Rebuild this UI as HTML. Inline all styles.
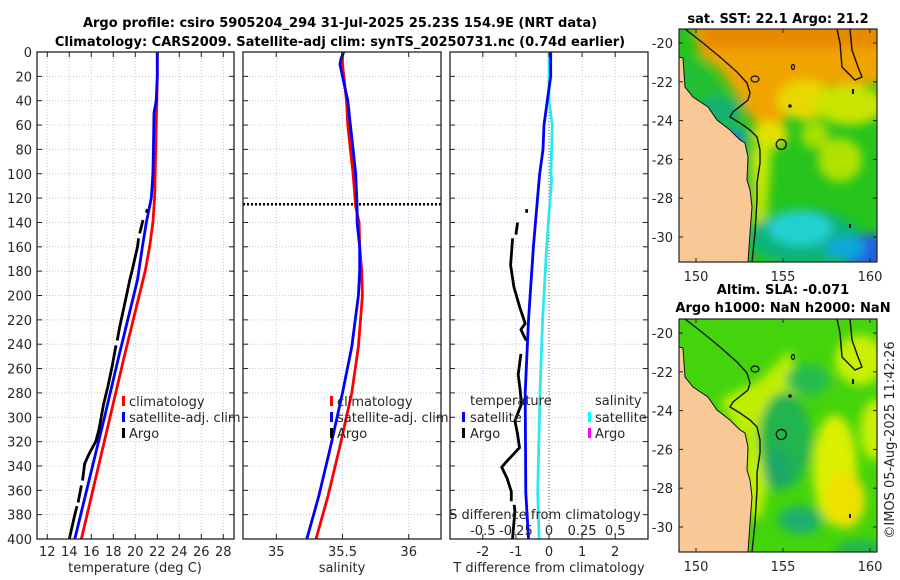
<!DOCTYPE html>
<html><head><meta charset="utf-8">
<style>
html,body{margin:0;padding:0;background:#fff;}
svg{display:block;font-family:"DejaVu Sans","Liberation Sans",sans-serif;}
.t{font-size:13px;fill:#262626;}
.b{font-size:13px;font-weight:bold;fill:#000;}
</style></head>
<body>
<svg id="fig" width="900" height="580" viewBox="0 0 900 580" xmlns="http://www.w3.org/2000/svg">
<defs>
  <clipPath id="c1"><rect x="37" y="52" width="197" height="487"/></clipPath>
  <clipPath id="c2"><rect x="243" y="52" width="198" height="487"/></clipPath>
  <clipPath id="c3"><rect x="450" y="52" width="198" height="487"/></clipPath>
  <clipPath id="cm1"><rect x="679" y="29" width="198" height="233"/></clipPath>
  <clipPath id="cm2"><rect x="679" y="319" width="198" height="233"/></clipPath>
  <filter id="bl" x="-10%" y="-10%" width="120%" height="120%"><feGaussianBlur stdDeviation="5"/></filter>
</defs>

<text class="b" x="340" y="27" text-anchor="middle">Argo profile: csiro 5905204_294 31-Jul-2025 25.23S 154.9E (NRT data)</text>
<text class="b" x="340" y="46" text-anchor="middle">Climatology: CARS2009. Satellite-adj clim: synTS_20250731.nc (0.74d earlier)</text>

<g id="grid"></g>
<g id="marks"></g>
<g id="axes"></g>

<g>
  <rect x="122" y="396" width="3" height="10" fill="#f00"/><text class="t" x="129" y="406">climatology</text>
  <rect x="122" y="412" width="3" height="10" fill="#00f"/><text class="t" x="129" y="422">satellite-adj. clim</text>
  <rect x="122" y="428" width="3" height="10" fill="#000"/><text class="t" x="129" y="438">Argo</text>
</g>
<g>
  <rect x="330" y="396" width="3" height="10" fill="#f00"/><text class="t" x="337" y="406">climatology</text>
  <rect x="330" y="412" width="3" height="10" fill="#00f"/><text class="t" x="337" y="422">satellite-adj. clim</text>
  <rect x="330" y="428" width="3" height="10" fill="#000"/><text class="t" x="337" y="438">Argo</text>
</g>
<g>
  <text class="t" x="470" y="405">temperature</text>
  <rect x="462" y="412" width="3" height="10" fill="#00f"/><text class="t" x="470" y="422">satellite</text>
  <rect x="462" y="428" width="3" height="10" fill="#000"/><text class="t" x="470" y="438">Argo</text>
  <text class="t" x="595" y="405">salinity</text>
  <rect x="588" y="412" width="3" height="10" fill="#0ff"/><text class="t" x="595" y="422">satellite</text>
  <rect x="588" y="428" width="3" height="10" fill="#f0f"/><text class="t" x="595" y="438">Argo</text>
</g>
<text class="t" x="545" y="519" text-anchor="middle">S difference from climatology</text>

<text class="t" x="135" y="572" text-anchor="middle">temperature (deg C)</text>
<text class="t" x="342" y="572" text-anchor="middle">salinity</text>
<text class="t" x="549" y="572" text-anchor="middle">T difference from climatology</text>

<!-- Upper map: SST -->
<text class="b" x="778" y="23" text-anchor="middle">sat. SST: 22.1 Argo: 21.2</text>
<g clip-path="url(#cm1)">
  <rect x="679" y="29" width="198" height="233" fill="#26c41c"/>
  <g filter="url(#bl)">
    <polygon points="690,20 890,20 890,80 850,88 815,85 795,100 782,125 765,130 752,120 740,100 720,70 700,55" fill="#f0a400"/>
    <rect x="700" y="20" width="190" height="28" fill="#e88a00"/>
    <ellipse cx="805" cy="100" rx="28" ry="20" fill="#e8d800"/>
    <ellipse cx="850" cy="105" rx="35" ry="20" fill="#c8e400"/>
    <ellipse cx="770" cy="135" rx="18" ry="14" fill="#e4e000"/>
    <polygon points="752,150 772,140 770,175 765,230 755,230" fill="#c6e800"/>
    <ellipse cx="840" cy="160" rx="22" ry="22" fill="#b0e200"/>
    <ellipse cx="815" cy="135" rx="14" ry="14" fill="#a8e000"/>
    <polygon points="679,55 700,58 725,95 742,125 752,150 752,262 700,262 679,200" fill="#22c030"/>
    <ellipse cx="720" cy="110" rx="22" ry="14" fill="#12b070"/>
    <ellipse cx="735" cy="138" rx="10" ry="8" fill="#1880d0"/>
    <ellipse cx="805" cy="238" rx="55" ry="28" fill="#10b478"/>
    <ellipse cx="800" cy="228" rx="32" ry="18" fill="#22d0d0"/>
    <ellipse cx="868" cy="252" rx="28" ry="18" fill="#2060e0"/>
    <ellipse cx="845" cy="248" rx="20" ry="12" fill="#10a8d8"/>
  </g>
</g>

<!-- Lower map: SLA -->
<text class="b" x="783" y="294" text-anchor="middle">Altim. SLA: -0.071</text>
<text class="b" x="783" y="312" text-anchor="middle">Argo h1000: NaN h2000: NaN</text>
<g clip-path="url(#cm2)">
  <rect x="679" y="319" width="198" height="233" fill="#44d40c"/>
  <g filter="url(#bl)">
    <polygon points="720,400 760,380 790,350 800,395 760,420 740,440" fill="#bfee00"/>
    <ellipse cx="755" cy="470" rx="12" ry="50" fill="#c0f000"/>
    <ellipse cx="860" cy="360" rx="25" ry="25" fill="#c8f000"/>
    <ellipse cx="835" cy="470" rx="22" ry="55" fill="#dcf000"/>
    <ellipse cx="845" cy="500" rx="20" ry="28" fill="#f0e000"/>
    <ellipse cx="875" cy="430" rx="15" ry="30" fill="#c8f000"/>
    <ellipse cx="785" cy="440" rx="26" ry="48" fill="#20b450"/>
    <ellipse cx="808" cy="380" rx="22" ry="16" fill="#28bc50"/>
    <ellipse cx="800" cy="520" rx="22" ry="14" fill="#1ab070"/>
    <ellipse cx="778" cy="470" rx="14" ry="20" fill="#1aa868"/>
    <ellipse cx="860" cy="550" rx="25" ry="10" fill="#20b450"/>
  </g>
</g>

<g id="maplayers"></g>

<text class="t" transform="translate(894,440) rotate(-90)" text-anchor="middle">©IMOS 05-Aug-2025 11:42:26</text>

<script>
// ---------- data ----------
const tempDepths = [0,20,40,60,80,100,120,140,160,180,200,250,300,350,400];
const tempClim   = [22.0,22.0,21.95,21.9,21.85,21.8,21.75,21.6,21.3,20.9,20.35,19.0,17.7,16.4,15.1];
const satDepths  = [0,20,40,50,80,100,120,140,160,187,200,250,300,350,400];
const tempSat    = [22.0,22.0,21.9,21.7,21.65,21.6,21.45,21.0,20.65,20.2,19.85,18.5,17.2,15.85,14.5];
const argoDepths = [129,132,null,138,149,null,153,160,180,187,200,225,237,null,241,260,275,290,300,310,320,330,338,345,352,null,356,370,null,373,380,400];
const tempArgo   = [21.1,21.0,null,20.7,20.4,null,20.3,20.2,19.7,19.5,19.2,18.6,18.35,null,18.25,17.85,17.5,17.1,16.9,16.7,16.4,15.8,15.4,15.3,15.2,null,15.1,14.8,null,14.7,14.5,14.0];

const salDepths = [0,5,10,20,40,60,80,100,127,140,160,180,200,242,280,324,365,400];
const salClim   = [35.50,35.50,35.50,35.51,35.53,35.54,35.56,35.58,35.60,35.625,35.63,35.645,35.65,35.62,35.57,35.48,35.39,35.30];
const salSat    = [35.51,35.49,35.48,35.50,35.54,35.56,35.58,35.60,35.61,35.61,35.63,35.63,35.62,35.57,35.50,35.41,35.32,35.23];
const mldDepth  = 125;

const diffDepths = [0,20,40,60,80,100,105,160,220,280,362,400];
const tDiffSat   = [0.05,0.05,-0.05,-0.15,-0.18,-0.28,-0.3,-0.47,-0.62,-0.72,-0.7,-0.62];
const sDiffSat   = [0,0,0,0.025,0.02,0.015,0.02,-0.018,-0.048,-0.068,-0.085,-0.075];
const argoDiffDepths = [129,132,null,140,150,null,153,175,193,210,223,228,237,null,248,265,276,289,303,314,325,336,341,350,361,369,null,372,377,406];
const tDiffArgo      = [-0.67,-0.68,null,-0.95,-1.0,null,-1.1,-1.16,-1.06,-0.88,-0.72,-0.85,-0.69,null,-0.85,-0.93,-0.88,-0.83,-1.03,-0.95,-0.89,-1.27,-1.43,-1.27,-1.14,-1.14,null,-1.05,-1.03,-1.12];

const depthTicks = [0,20,40,60,80,100,120,140,160,180,200,220,240,260,280,300,320,340,360,380,400];
const tempTicks  = [12,14,16,18,20,22,24,26,28];
const salTicks   = [35,35.5,36];
const salTickLabels = ["35","35.5","36"];
const tDiffTicks = [-2,-1,0,1,2];
const sDiffTicks = [-0.5,-0.25,0,0.25,0.5];
const sDiffTickLabels = ["-0.5","-0.25","0","0.25","0.5"];
const latTicks = [-20,-22,-24,-26,-28,-30];
const lonTicks = [150,155,160];

// ---------- axis functions ----------
const Y0 = 52, Y1 = 539;
const yD = d => 52 + d * 1.2175;
const xT = t => 47.3 + (t - 12) * 11.0;
const xS = s => 276.3 + (s - 35) * 132.4;
const xTD = t => 549 + t * 33.1;
const xSD = s => 549 + s * 132.4;
const mapX = lon => 696 + (lon - 150) * 17.4;
const mapY = (lat, off) => 43 + off + (-20 - lat) * 19.4;

const NS = "http://www.w3.org/2000/svg";
function mk(tag, attrs, parent) {
  const e = document.createElementNS(NS, tag);
  for (const k in attrs) e.setAttribute(k, attrs[k]);
  parent.appendChild(e);
  return e;
}
const grid = document.getElementById('grid');
const marks = document.getElementById('marks');
const axes = document.getElementById('axes');

function pathFrom(depths, vals, fx) {
  let d = "", pen = false;
  for (let i = 0; i < depths.length; i++) {
    if (depths[i] === null || vals[i] === null) { pen = false; continue; }
    d += (pen ? "L" : "M") + fx(vals[i]).toFixed(1) + "," + yD(depths[i]).toFixed(1);
    pen = true;
  }
  return d;
}

const panels = [
  {x0:37, x1:234, clip:'c1', vticks:tempTicks.map(xT)},
  {x0:243, x1:441, clip:'c2', vticks:salTicks.map(xS)},
  {x0:450, x1:648, clip:'c3', vticks:tDiffTicks.map(xTD)}
];
panels.forEach((p, pi) => {
  depthTicks.forEach(d => {
    const g = mk('line', {x1:p.x0, x2:p.x1, y1:yD(d), y2:yD(d), stroke:'#c4c4e4', 'stroke-width':1, 'stroke-dasharray':'1,2'}, grid);
    
    
    mk('line', {x1:p.x0, x2:p.x0+5, y1:yD(d), y2:yD(d), stroke:'#222', 'stroke-width':1}, axes);
    mk('line', {x1:p.x1-5, x2:p.x1, y1:yD(d), y2:yD(d), stroke:'#222', 'stroke-width':1}, axes);
  });
  p.vticks.forEach(x => {
    const g = mk('line', {x1:x, x2:x, y1:Y0, y2:Y1, stroke:'#c4c4e4', 'stroke-width':1, 'stroke-dasharray':'1,2'}, grid);
    
    
    mk('line', {x1:x, x2:x, y1:Y1-5, y2:Y1, stroke:'#222', 'stroke-width':1}, axes);
    mk('line', {x1:x, x2:x, y1:Y0, y2:Y0+5, stroke:'#222', 'stroke-width':1}, axes);
  });
  const fr = mk('rect', {x:p.x0, y:Y0, width:p.x1-p.x0, height:Y1-Y0, fill:'none', stroke:'#222', 'stroke-width':1.3}, axes);
  
  
});

const zl = mk('line', {x1:xTD(0), x2:xTD(0), y1:Y0, y2:Y1, stroke:'#555', 'stroke-width':1, 'stroke-dasharray':'1,2'}, grid);



depthTicks.forEach(d => {
  const t = mk('text', {x:32, y:yD(d)+5, 'text-anchor':'end', class:'t'}, axes);
  t.textContent = d;
  
  
});
tempTicks.forEach(v => {
  const t = mk('text', {x:xT(v), y:556, 'text-anchor':'middle', class:'t'}, axes);
  t.textContent = v;
  
  
});
salTicks.forEach((v, i) => {
  const t = mk('text', {x:xS(v), y:556, 'text-anchor':'middle', class:'t'}, axes);
  t.textContent = salTickLabels[i];
  
  
});
tDiffTicks.forEach(v => {
  const t = mk('text', {x:xTD(v), y:556, 'text-anchor':'middle', class:'t'}, axes);
  t.textContent = v;
  
  
});
sDiffTicks.forEach((v, i) => {
  const t = mk('text', {x:xSD(v), y:535, 'text-anchor':'middle', class:'t'}, axes);
  t.textContent = sDiffTickLabels[i];
  
  
});

function series(clip, d, name, col, w) {
  const p = mk('path', {d:d, fill:'none', stroke:col, 'stroke-width':w, 'stroke-linejoin':'round', 'clip-path':'url(#'+clip+')'}, marks);
  
  
}
series('c1', pathFrom(tempDepths, tempClim, xT), 'temperature-climatology-line', '#f00', 2.8);
series('c1', pathFrom(satDepths, tempSat, xT), 'temperature-satellite-line', '#00f', 2.8);
series('c1', pathFrom(argoDepths, tempArgo, xT), 'temperature-argo-line', '#000', 2.8);
series('c2', pathFrom(salDepths, salClim, xS), 'salinity-climatology-line', '#f00', 2.8);
series('c2', pathFrom(salDepths, salSat, xS), 'salinity-satellite-line', '#00f', 2.8);
const ml = mk('line', {x1:243, x2:441, y1:yD(mldDepth), y2:yD(mldDepth), stroke:'#000', 'stroke-width':2.5, 'stroke-dasharray':'2,2'}, marks);


series('c3', pathFrom(diffDepths, sDiffSat, xSD), 'salinity-difference-satellite-line', '#2ee8f0', 2.8);
series('c3', pathFrom(diffDepths, tDiffSat, xTD), 'temperature-difference-satellite-line', '#00f', 2.8);
series('c3', pathFrom(argoDiffDepths, tDiffArgo, xTD), 'temperature-difference-argo-line', '#000', 2.8);

// ---------- maps ----------
const ml2 = document.getElementById('maplayers');
const landPts = [[679,57],[683,58],[685,87],[693,97],[708,107],[717,120],[730,130],[740,140],[745,143],[748,157],[747,180],[750,190],[752,207],[750,233],[748,262],[679,262]];
const isoA = [[685,29],[703,43],[720,57],[737,72],[747,83],[750,93],[748,100],[733,112],[730,117],[740,123],[750,130],[757,137],[760,150],[760,163],[757,183],[757,200],[755,233],[752,262]];
const isoB = [[837,29],[840,43],[842,67],[855,80],[862,77],[858,67],[852,50],[850,29]];
[[0,'cm1',29],[290,'cm2',319]].forEach(([off, clip, top], mi) => {
  const g = mk('g', {'clip-path':'url(#'+clip+')'}, ml2);
  
  
  const sh = p => p.map(q => q[0] + ',' + (q[1] + off)).join(' ');
  const land = mk('polygon', {points:sh(landPts), fill:'#f8c896', stroke:'#111', 'stroke-width':1}, g);
  
  
  mk('polyline', {points:sh(isoA), fill:'none', stroke:'#111', 'stroke-width':1.4}, g);
  mk('polyline', {points:sh(isoB), fill:'none', stroke:'#111', 'stroke-width':1.4}, g);
  mk('ellipse', {cx:755, cy:79+off, rx:4, ry:3, fill:'none', stroke:'#111', 'stroke-width':1.3}, g);
  mk('ellipse', {cx:793, cy:67+off, rx:1.5, ry:2.5, fill:'none', stroke:'#111', 'stroke-width':1.3}, g);
  mk('circle', {cx:790, cy:106+off, r:1.8, fill:'#111'}, g);
  mk('rect', {x:852, y:89+off, width:2, height:5, fill:'#111'}, g);
  mk('rect', {x:849, y:224+off, width:2, height:4, fill:'#111'}, g);
  const fl = mk('circle', {cx:mapX(154.9), cy:mapY(-25.23, off), r:5, fill:'none', stroke:'#111', 'stroke-width':1.3}, g);
  
  
  const fr = mk('rect', {x:679, y:top, width:198, height:233, fill:'none', stroke:'#222', 'stroke-width':1.2}, ml2);
  
  
  latTicks.forEach(lat => {
    const y = mapY(lat, off);
    mk('line', {x1:679, x2:683, y1:y, y2:y, stroke:'#222'}, ml2);
    mk('line', {x1:873, x2:877, y1:y, y2:y, stroke:'#222'}, ml2);
    const t = mk('text', {x:673, y:y+5, 'text-anchor':'end', class:'t'}, ml2);
    t.textContent = lat;
    
    
  });
  lonTicks.forEach(lon => {
    const x = mapX(lon);
    mk('line', {x1:x, x2:x, y1:top+229, y2:top+233, stroke:'#222'}, ml2);
    mk('line', {x1:x, x2:x, y1:top, y2:top+4, stroke:'#222'}, ml2);
    const t = mk('text', {x:x, y:top+252, 'text-anchor':'middle', class:'t'}, ml2);
    t.textContent = lon;
    
    
  });
});
</script>
</svg>
</body></html>
